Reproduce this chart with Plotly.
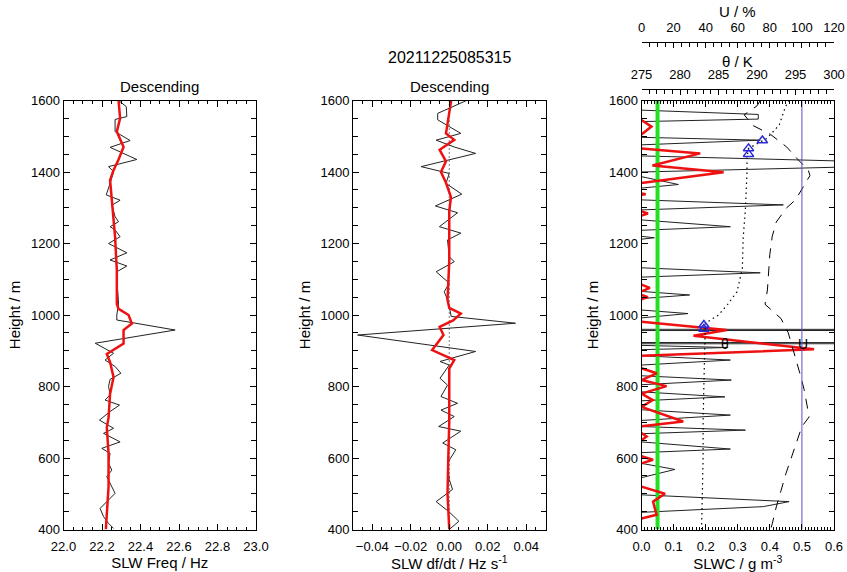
import plotly.graph_objects as go

W, H = 847, 572

# ---------------- Panel 1: SLW frequency (Hz) ----------------
freq_h = [1600, 1583, 1555, 1547, 1513, 1488, 1469, 1435, 1415, 1401, 1368, 1336,
          1321, 1307, 1275, 1261, 1247, 1238, 1219, 1200, 1174, 1154, 1137, 1121,
          1079, 1033, 1000, 986, 958, 921, 893, 874, 856, 837, 820, 800, 777, 762,
          748, 730, 706, 683, 669, 645, 627, 613, 585, 566, 548, 501, 487, 459,
          436, 417, 403]
freq_raw = [22.286, 22.326, 22.329, 22.268, 22.268, 22.346, 22.242, 22.381, 22.234,
            22.260, 22.242, 22.222, 22.294, 22.251, 22.268, 22.286, 22.242, 22.268,
            22.294, 22.234, 22.329, 22.242, 22.329, 22.277, 22.280, 22.286, 22.277,
            22.277, 22.580, 22.165, 22.260, 22.216, 22.268, 22.298, 22.242, 22.234,
            22.242, 22.216, 22.291, 22.242, 22.187, 22.260, 22.208, 22.294, 22.199,
            22.242, 22.234, 22.251, 22.225, 22.268, 22.242, 22.190, 22.208, 22.234,
            22.260]
freq_sm_h = [1600, 1550, 1513, 1470, 1435, 1405, 1377, 1300, 1218, 1125, 1031, 1017,
             1000, 976, 958, 920, 891, 868, 826, 780, 713, 685, 613, 520, 426, 400]
freq_sm = [22.286, 22.294, 22.277, 22.312, 22.286, 22.260, 22.242, 22.255, 22.268,
           22.277, 22.277, 22.286, 22.338, 22.355, 22.312, 22.312, 22.225, 22.242,
           22.260, 22.242, 22.234, 22.225, 22.234, 22.234, 22.225, 22.220]

# ---------------- Panel 2: df/dt (Hz s-1) ----------------
dfdt_h = [1600, 1564, 1546, 1508, 1489, 1470, 1452, 1415, 1396, 1368, 1338, 1305,
          1286, 1247, 1229, 1210, 1163, 1149, 1121, 1089, 1065, 1042, 1024, 996,
          977, 944, 898, 870, 860, 823, 804, 772, 753, 734, 716, 688, 675, 642, 623,
          586, 540, 512, 478, 449, 423, 400]
dfdt_raw = [0.0090, -0.0060, -0.0060, 0.0060, -0.0068, 0.0026, 0.0137, -0.0146,
            0.0000, -0.0017, 0.0065, -0.0072, 0.0043, -0.0051, 0.0060, -0.0009,
            0.0000, 0.0026, -0.0068, 0.0000, -0.0026, -0.0009, 0.0000, 0.0010,
            0.0344, -0.0476, 0.0137, -0.0048, 0.0000, -0.0048, -0.0009, -0.0043,
            0.0043, -0.0043, 0.0026, -0.0055, 0.0060, -0.0034, 0.0034, -0.0009,
            0.0000, 0.0017, -0.0068, 0.0000, 0.0050, 0.0000]
dfdt_sm_h = [1600, 1564, 1508, 1490, 1462, 1430, 1400, 1370, 1330, 1290, 1250, 1150,
             1042, 1020, 1004, 985, 967, 944, 902, 874, 850, 800, 700, 600, 500, 400]
dfdt_sm = [0.0010, 0.0000, -0.0017, 0.0026, -0.0050, -0.0017, -0.0043, -0.0017,
           0.0009, 0.0000, 0.0000, 0.0000, -0.0009, 0.0000, 0.0060, 0.0020,
           -0.0050, -0.0030, -0.0089, 0.0026, 0.0000, 0.0000, 0.0000, -0.0005,
           -0.0009, 0.0000]

# ---------------- Panel 3: SLWC, potential temperature, humidity ----------------
slwc_h = [1600, 1573, 1561, 1548, 1541, 1497, 1489, 1476, 1445, 1422, 1400, 1387,
          1365, 1355, 1322, 1308, 1294, 1266, 1247, 1237, 1220, 1216, 1212, 1132,
          1118, 1106, 1066, 1056, 1046, 1014, 1004, 992, 960, 958, 956.5, 923, 921,
          919.5, 915, 909, 903, 886, 874, 860, 830, 818, 805, 785, 771, 760, 735,
          720, 705, 688, 678, 668, 645, 625, 615, 585, 568, 545, 497, 478, 464,
          448, 400]
slwc_raw = [0, 0, 0.364, 0.364, 0, 0, 0.37, 0, 0, 1.0, 0, 0, 0.115, 0, 0, 0.442, 0,
            0, 0.277, 0, 0, 0.04, 0, 0, 0.37, 0, 0, 0.15, 0, 0, 0.145, 0, 0, 8.0, 0,
            0, 8.0, 0, 0, 0.27, 0, 0, 0.277, 0, 0, 0.28, 0, 0, 0.26, 0, 0, 0.277, 0,
            0, 0.324, 0, 0, 0.277, 0, 0, 0.104, 0, 0, 0.46, 0.38, 0, 0]

# adjusted SLWC, separate cloud-layer segments split by gaps
slwc_adj_h = [1545, 1527, 1505, None,
              1466, 1452, 1418, 1399, 1369, None,
              1340, 1338, 1336, None,
              1290, 1284, 1278, None,
              1085, 1076, 1066, None,
              1056, 1050, 1044, None,
              981, 958, 942, 904, 886, None,
              851, 837, 818, 801, 780, 762, 743, 702, 689, None,
              670, 660, 650, None,
              605, 595, 585, None,
              520, 500, 478, 441, 431]
slwc_adj = [0, 0.031, 0, None,
            0, 0.183, 0.034, 0.256, 0, None,
            0, 0.013, 0, None,
            0, 0.02, 0, None,
            0, 0.026, 0, None,
            0, 0.02, 0, None,
            0, 0.266, 0.162, 0.538, 0, None,
            0, 0.047, 0, 0.078, 0, 0.035, 0, 0.13, 0, None,
            0, 0.016, 0, None,
            0, 0.036, 0, None,
            0, 0.073, 0.036, 0.047, 0]

slwc_threshold = 0.05
u_saturation = 100

theta_h = [1600, 1583, 1532, 1494, 1466, 1440, 1400, 1298, 1214, 1130, 1065, 1030,
           1000, 977, 900, 800, 700, 600, 500, 400]
theta_k = [294.2, 293.7, 292.9, 291.3, 288.9, 288.7, 288.7, 288.5, 288.2, 288.1,
           287.4, 286.2, 285.0, 283.3, 283.2, 283.1, 283.0, 283.0, 282.9, 282.8]

cloud_h = [1488, 1466, 1450, 972, 961]
cloud_theta = [290.7, 288.9, 288.9, 283.1, 283.1]

u_h = [1600, 1585, 1560, 1530, 1505, 1470, 1435, 1405, 1390, 1350, 1322, 1300, 1260,
       1220, 1170, 1070, 1030, 1010, 990, 950, 912, 884, 828, 791, 735, 715, 688,
       650, 600, 556, 509, 463, 416, 400]
u_pct = [74, 72, 64, 69.5, 80.5, 90.5, 97.5, 104, 105, 100, 96, 90.5, 84, 81.5, 80,
         78.5, 77, 82, 87, 91.5, 94, 96, 99.3, 101.4, 103.5, 104.5, 100, 97, 93, 90,
         87, 84, 81.5, 80.5]

# ---------------- layout geometry ----------------
y_dom = [(H - 529.5) / H, (H - 100.5) / H]
p1 = [63.5 / W, 256 / W]
p2 = [353 / W, 545.5 / W]
p3 = [641.5 / W, 834 / W]

FONT = "Liberation Sans, Arial, Helvetica, sans-serif"
BLACK = "black"
RED = "#ee1111"

fig = go.Figure()

# panel 1
fig.add_trace(go.Scatter(x=freq_raw, y=freq_h, mode="lines",
                         line=dict(color="#222222", width=1), xaxis="x", yaxis="y"))
fig.add_trace(go.Scatter(x=freq_sm, y=freq_sm_h, mode="lines",
                         line=dict(color=RED, width=2.5), xaxis="x", yaxis="y"))

# panel 2
fig.add_trace(go.Scatter(x=[0, 0], y=[400, 1600], mode="lines",
                         line=dict(color=BLACK, width=1, dash="1px,3px"),
                         xaxis="x2", yaxis="y2"))
fig.add_trace(go.Scatter(x=dfdt_raw, y=dfdt_h, mode="lines",
                         line=dict(color="#222222", width=1), xaxis="x2", yaxis="y2"))
fig.add_trace(go.Scatter(x=dfdt_sm, y=dfdt_sm_h, mode="lines",
                         line=dict(color=RED, width=2.5), xaxis="x2", yaxis="y2"))

# panel 3
fig.add_trace(go.Scatter(x=slwc_raw, y=slwc_h, mode="lines",
                         line=dict(color="#222222", width=1), xaxis="x3", yaxis="y3"))
fig.add_trace(go.Scatter(x=theta_k, y=theta_h, mode="lines",
                         line=dict(color=BLACK, width=1.2, dash="1.5px,3.5px"),
                         xaxis="x4", yaxis="y3"))
fig.add_trace(go.Scatter(x=u_pct, y=u_h, mode="lines",
                         line=dict(color=BLACK, width=1, dash="10px,8px"),
                         xaxis="x5", yaxis="y3"))
fig.add_trace(go.Scatter(x=[u_saturation, u_saturation], y=[400, 1600], mode="lines",
                         line=dict(color="#5a4fd0", width=1), xaxis="x5", yaxis="y3"))
fig.add_trace(go.Scatter(x=[slwc_threshold, slwc_threshold], y=[400, 1600], mode="lines",
                         line=dict(color="#22e022", width=4), xaxis="x3", yaxis="y3"))
fig.add_trace(go.Scatter(x=slwc_adj, y=slwc_adj_h, mode="lines", connectgaps=False,
                         line=dict(color=RED, width=2.5), xaxis="x3", yaxis="y3"))
fig.add_trace(go.Scatter(x=cloud_theta, y=cloud_h, mode="markers",
                         marker=dict(symbol="triangle-up-open", size=9, color="#2a2ad8",
                                     line=dict(width=1.5, color="#2a2ad8")),
                         xaxis="x4", yaxis="y3", cliponaxis=False))

tickfont = dict(family=FONT, size=13, color=BLACK)
titlefont = dict(family=FONT, size=15, color=BLACK)


def box_x(domain, rng, dtick, minor, fmt, title):
    return dict(domain=domain, range=rng, dtick=dtick, tick0=rng[0], tickformat=fmt,
                showline=True, linecolor=BLACK, linewidth=1, mirror="ticks",
                ticks="inside", ticklen=6, tickwidth=1, tickcolor=BLACK,
                ticklabelstandoff=5,
                minor=dict(dtick=minor, ticks="inside", ticklen=3, tickcolor=BLACK,
                           showgrid=False),
                showgrid=False, zeroline=False, tickfont=tickfont,
                title=dict(text=title, font=titlefont, standoff=2),
                automargin=False, fixedrange=True)


def box_y(anchor, minor_len=5):
    return dict(domain=y_dom, range=[400, 1600], dtick=200, tick0=400, anchor=anchor,
                showline=True, linecolor=BLACK, linewidth=1, mirror="ticks",
                ticks="inside", ticklen=6, tickwidth=1, tickcolor=BLACK,
                minor=dict(dtick=50, ticks="inside", ticklen=minor_len, tickcolor=BLACK,
                           showgrid=False),
                showgrid=False, zeroline=False, tickfont=tickfont,
                title=dict(text="Height / m", font=titlefont, standoff=6),
                automargin=False, fixedrange=True)


def top_axis(rng, dtick, minor, pos):
    return dict(overlaying="x3", anchor="free", position=pos, side="top",
                range=rng, dtick=dtick, tick0=rng[0],
                showline=True, linecolor=BLACK, linewidth=1,
                ticks="inside", ticklen=5, tickwidth=1, tickcolor=BLACK,
                ticklabelstandoff=5,
                minor=dict(dtick=minor, ticks="inside", ticklen=4, tickcolor=BLACK,
                           showgrid=False),
                showgrid=False, zeroline=False, tickfont=tickfont,
                automargin=False, fixedrange=True)


def label(text, x, y, size=15, xref="paper", yref="paper"):
    return dict(text=text, x=x, y=y, xref=xref, yref=yref, showarrow=False,
                font=dict(family=FONT, size=size, color=BLACK),
                xanchor="center", yanchor="middle")


p3_mid = (p3[0] + p3[1]) / 2

fig.update_layout(
    width=W, height=H,
    margin=dict(l=0, r=0, t=0, b=0),
    paper_bgcolor="white", plot_bgcolor="white",
    showlegend=False,
    font=dict(family=FONT, color=BLACK),
    xaxis=box_x(p1, [22.0, 23.0], 0.2, 0.05, ".1f", "SLW Freq / Hz"),
    yaxis=box_y("x"),
    xaxis2=dict(box_x(p2, [-0.05, 0.05], 0.02, 0.005, ".2f",
                      "SLW df/dt / Hz s<sup>-1</sup>"), anchor="y2", tick0=-0.04),
    yaxis2=box_y("x2"),
    xaxis3=dict(box_x(p3, [0.0, 0.6], 0.1, 0.01, ".1f", "SLWC / g m<sup>-3</sup>"),
                anchor="y3"),
    yaxis3=box_y("x3"),
    xaxis4=top_axis([275, 300], 5, 1, (H - 89.3) / H),
    xaxis5=top_axis([0, 120], 20, 5, (H - 41.7) / H),
    annotations=[
        label("20211225085315", 449 / W, (H - 58) / H, size=16),
        label("Descending", (p1[0] + p1[1]) / 2, (H - 87) / H),
        label("Descending", (p2[0] + p2[1]) / 2, (H - 87) / H),
        label("U / %", p3_mid, (H - 12) / H),
        label("θ / K", p3_mid, (H - 61) / H),
        label("θ", 0.261, 920, size=14, xref="x3", yref="y3"),
        label("U", 0.502, 919, size=14, xref="x3", yref="y3"),
    ],
)

fig.write_html("out.html")
